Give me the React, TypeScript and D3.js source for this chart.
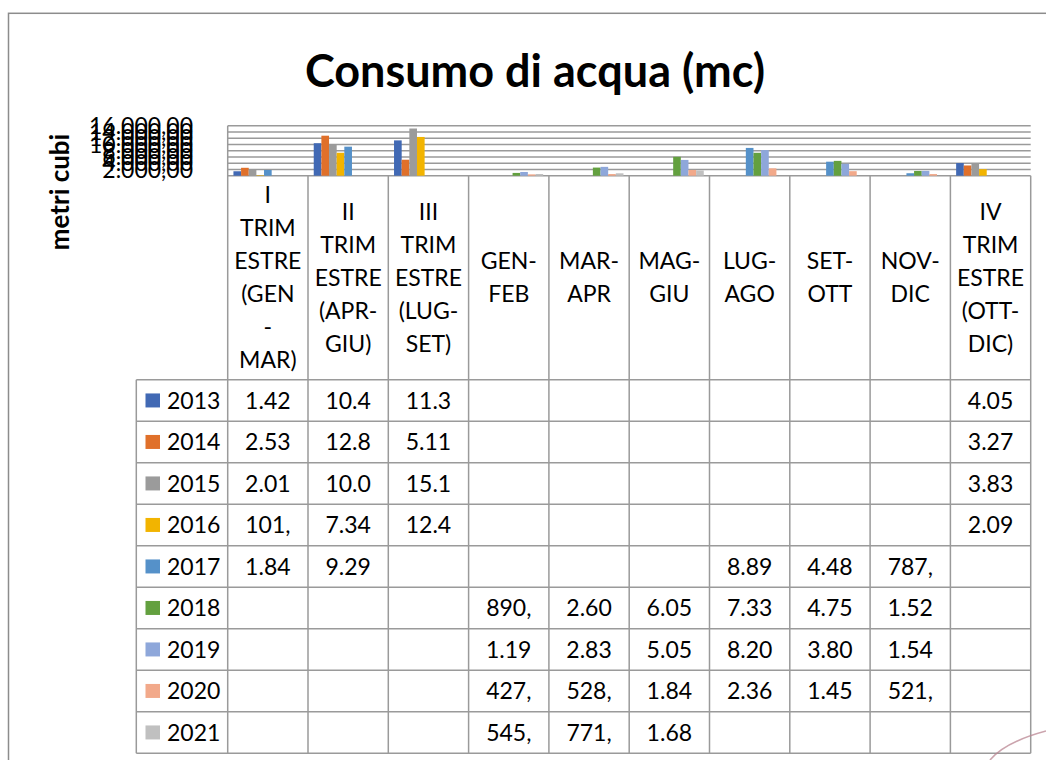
import * as d3 from "d3";
import { useEffect, useRef } from "react";

// categorie (a capo come nel grafico originale)
const categories = [
  "I\nTRIM\nESTRE\n(GEN\n-\nMAR)",
  "II\nTRIM\nESTRE\n(APR-\nGIU)",
  "III\nTRIM\nESTRE\n(LUG-\nSET)",
  "GEN-\nFEB",
  "MAR-\nAPR",
  "MAG-\nGIU",
  "LUG-\nAGO",
  "SET-\nOTT",
  "NOV-\nDIC",
  "IV\nTRIM\nESTRE\n(OTT-\nDIC)",
];

const years = ["2013", "2014", "2015", "2016", "2017", "2018", "2019", "2020", "2021"];

const colors = [
  "#4169b4",
  "#e0702a",
  "#9b9b9b",
  "#f2b400",
  "#5591c9",
  "#63a03f",
  "#8ea7da",
  "#f2a98a",
  "#c0c0c0",
];

type V = number | null;
const v2013: V[] = [1420, 10400, 11300, null, null, null, null, null, null, 4050];
const v2014: V[] = [2530, 12800, 5110, null, null, null, null, null, null, 3270];
const v2015: V[] = [2010, 10040, 15100, null, null, null, null, null, null, 3830];
const v2016: V[] = [101, 7340, 12400, null, null, null, null, null, null, 2090];
const v2017: V[] = [1840, 9290, null, null, null, null, 8890, 4480, 787, null];
const v2018: V[] = [null, null, null, 890, 2600, 6050, 7330, 4750, 1520, null];
const v2019: V[] = [null, null, null, 1190, 2830, 5050, 8200, 3800, 1540, null];
const v2020: V[] = [null, null, null, 427, 528, 1840, 2360, 1450, 521, null];
const v2021: V[] = [null, null, null, 545, 771, 1680, null, null, null, null];

const series = [v2013, v2014, v2015, v2016, v2017, v2018, v2019, v2020, v2021];

const yTicks = [0, 2000, 4000, 6000, 8000, 10000, 12000, 14000, 16000];

const W = 1046;
const H = 760;

export default function App() {
  const svgRef = useRef<SVGSVGElement>(null);

  useEffect(() => {
    if (!svgRef.current) return;
    const svg = d3.select(svgRef.current);
    svg.selectAll("*").remove();

    const font = "Lato, 'Noto Sans', sans-serif";
    const fontSize = 23;
    const lineColor = "#9a9a9a";

    const plotLeft = 227.7;
    const plotRight = 1030.7;
    const plotTop = 125.7;
    const plotBottom = 175.7;
    const headerBottom = 379.7;
    const rowH = 41.5;
    const legendLeft = 136.3;
    const tableBottom = headerBottom + rowH * years.length;

    const it = d3.formatLocale({
      decimal: ",",
      thousands: ".",
      grouping: [3],
      currency: ["€", ""],
    });
    const fmt = it.format(",.2f");

    // scale
    const x = d3
      .scaleBand<number>()
      .domain(d3.range(categories.length))
      .range([plotLeft, plotRight]);
    const xs = d3
      .scaleBand<string>()
      .domain(years)
      .range([0, x.bandwidth()])
      .paddingInner(0)
      .paddingOuter(0.75);
    const y = d3.scaleLinear().domain([0, 16000]).range([plotBottom, plotTop]);

    svg.append("rect").attr("width", W).attr("height", H).attr("fill", "#fff");

    // cornice
    svg
      .append("rect")
      .attr("x", 8.5)
      .attr("y", 13.3)
      .attr("width", W + 20)
      .attr("height", H + 20)
      .attr("fill", "none")
      .attr("stroke", "#8c8c8c")
      .attr("stroke-width", 1.5);

    // titolo
    svg
      .append("text")
      .attr("x", 535)
      .attr("y", 87)
      .attr("text-anchor", "middle")
      .attr("font-family", font)
      .attr("font-weight", "bold")
      .attr("font-size", 45)
      .attr("fill", "#000")
      .text("Consumo di acqua (mc)");

    // titolo asse
    svg
      .append("text")
      .attr("transform", `translate(60, 192) rotate(-90)`)
      .attr("text-anchor", "middle")
      .attr("dy", "0.35em")
      .attr("font-family", font)
      .attr("font-weight", "bold")
      .attr("font-size", 26)
      .text("metri cubi");

    // griglia
    svg
      .append("g")
      .selectAll("line")
      .data(yTicks)
      .join("line")
      .attr("x1", plotLeft)
      .attr("x2", plotRight)
      .attr("y1", (d) => y(d))
      .attr("y2", (d) => y(d))
      .attr("stroke", lineColor)
      .attr("stroke-width", 1.5);

    // etichette asse y (sovrapposte come nell'originale)
    svg
      .append("g")
      .selectAll("text")
      .data(yTicks.filter((d) => d > 0))
      .join("text")
      .attr("x", 193)
      .attr("y", (d) => y(d))
      .attr("dy", "0.35em")
      .attr("text-anchor", "end")
      .attr("font-family", font)
      .attr("font-size", fontSize)
      .text((d) => fmt(d));

    // barre
    series.forEach((vals, si) => {
      svg
        .append("g")
        .selectAll("rect")
        .data(vals.map((v, ci) => ({ v, ci })).filter((d) => d.v !== null))
        .join("rect")
        .attr("x", (d) => (x(d.ci) as number) + (xs(years[si]) as number))
        .attr("width", xs.bandwidth())
        .attr("y", (d) => y(d.v as number))
        .attr("height", (d) => Math.max(0.5, plotBottom - y(d.v as number)))
        .attr("fill", colors[si]);
    });

    // tabella dati
    const tbl = svg.append("g");
    const bounds = d3.range(categories.length + 1).map((i) =>
      i < categories.length ? (x(i) as number) : plotRight
    );
    tbl
      .selectAll("line.v")
      .data(bounds)
      .join("line")
      .attr("class", "v")
      .attr("x1", (d) => d)
      .attr("x2", (d) => d)
      .attr("y1", (_, i) => (i === 0 ? plotTop : plotBottom))
      .attr("y2", tableBottom)
      .attr("stroke", lineColor)
      .attr("stroke-width", 1.5);
    tbl
      .append("line")
      .attr("x1", legendLeft)
      .attr("x2", legendLeft)
      .attr("y1", headerBottom)
      .attr("y2", tableBottom)
      .attr("stroke", lineColor)
      .attr("stroke-width", 1.5);
    tbl
      .selectAll("line.h")
      .data(d3.range(years.length + 1))
      .join("line")
      .attr("class", "h")
      .attr("x1", legendLeft)
      .attr("x2", plotRight)
      .attr("y1", (i) => headerBottom + i * rowH)
      .attr("y2", (i) => headerBottom + i * rowH)
      .attr("stroke", lineColor)
      .attr("stroke-width", 1.5);

    // intestazioni categorie
    const headMid = (plotBottom + headerBottom) / 2;
    const lineH = 33;
    categories.forEach((c, ci) => {
      const lines = c.split("\n");
      const cx = (x(ci) as number) + x.bandwidth() / 2;
      tbl
        .append("g")
        .selectAll("text")
        .data(lines)
        .join("text")
        .attr("x", cx)
        .attr("y", (_, i) => headMid + (i - (lines.length - 1) / 2) * lineH)
        .attr("dy", "0.35em")
        .attr("text-anchor", "middle")
        .attr("font-family", font)
        .attr("font-size", fontSize)
        .text((d) => d);
    });

    // righe legenda + valori (solo la prima riga del testo a capo è visibile)
    years.forEach((yr, si) => {
      const cy = headerBottom + si * rowH + rowH / 2;
      tbl
        .append("rect")
        .attr("x", 145.5)
        .attr("y", cy - 7)
        .attr("width", 14.5)
        .attr("height", 14)
        .attr("fill", colors[si]);
      tbl
        .append("text")
        .attr("x", 167)
        .attr("y", cy)
        .attr("dy", "0.35em")
        .attr("font-family", font)
        .attr("font-size", fontSize)
        .text(yr);
      series[si].forEach((v, ci) => {
        if (v === null) return;
        tbl
          .append("text")
          .attr("x", (x(ci) as number) + x.bandwidth() / 2)
          .attr("y", cy)
          .attr("dy", "0.35em")
          .attr("text-anchor", "middle")
          .attr("font-family", font)
          .attr("font-size", fontSize)
          .text(fmt(v).slice(0, 4));
      });
    });

    // segno di penna in basso a destra
    svg
      .append("path")
      .attr("d", "M 990 760 Q 1005 742 1046 731")
      .attr("fill", "none")
      .attr("stroke", "#b98592")
      .attr("stroke-width", 1.6)
      .attr("opacity", 0.75);

    return () => {
      svg.selectAll("*").remove();
    };
  }, []);

  return (
    <svg
      ref={svgRef}
      width={W}
      height={H}
      viewBox={`0 0 ${W} ${H}`}
      style={{ position: "absolute", left: 0, top: 0 }}
    />
  );
}
